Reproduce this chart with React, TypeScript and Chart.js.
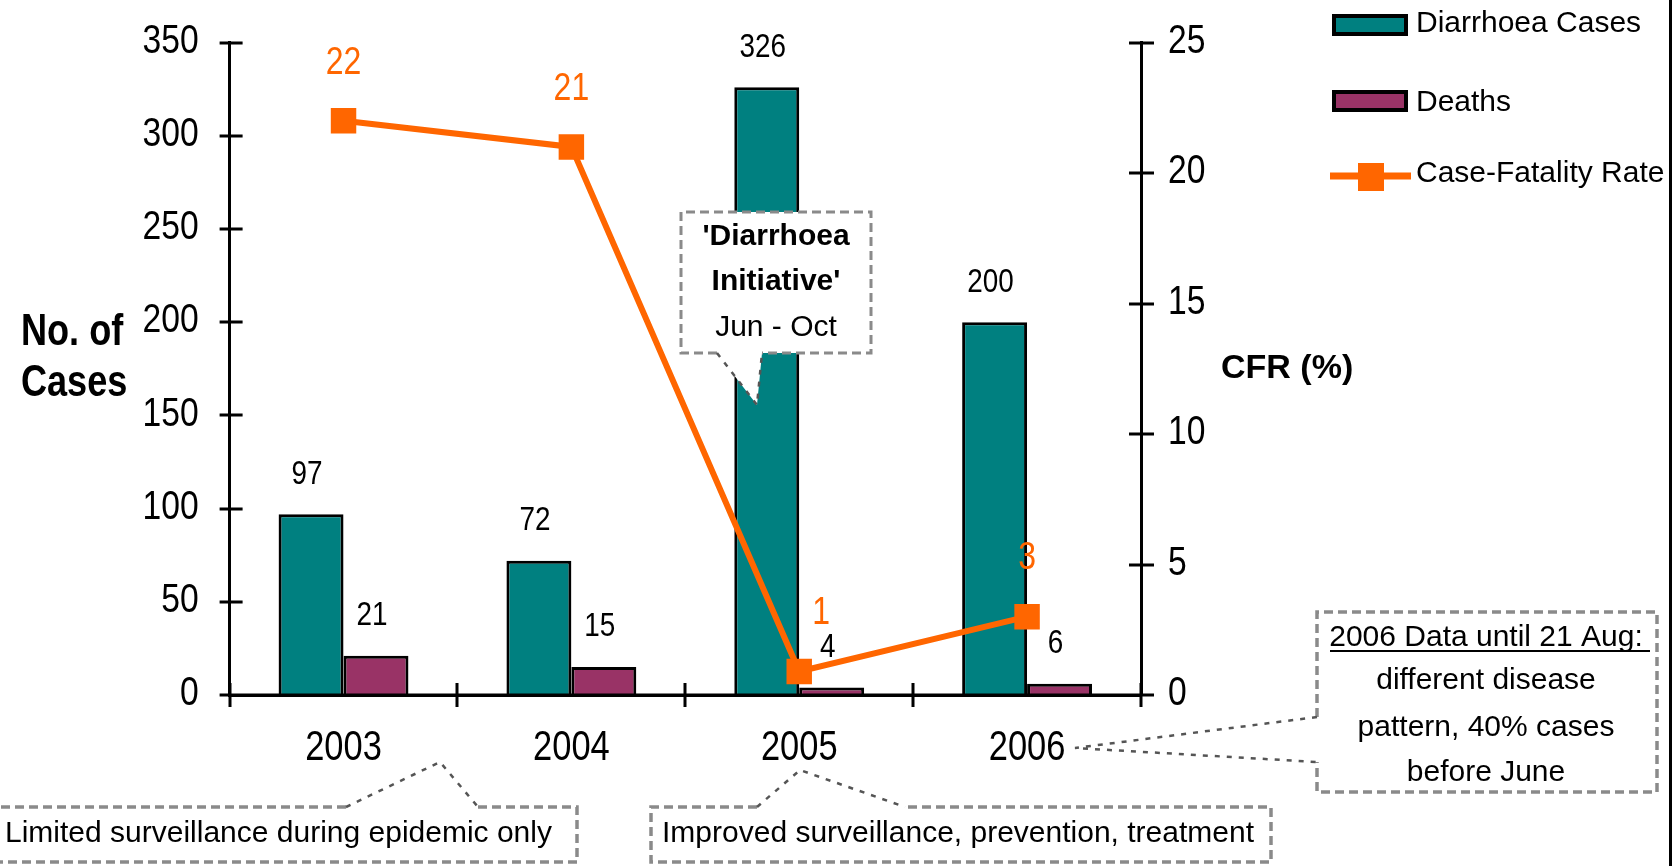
import React, { useEffect, useRef } from 'react';
import { Chart, registerables } from 'chart.js';

Chart.register(...registerables);

// ---- data ----
const years = ['2003', '2004', '2005', '2006'];
const diarrhoeaCases = [97, 72, 326, 200];
const deaths = [21, 15, 4, 6];
const cfrValues = [22, 21, 0.9, 3];
const cfrLabels = ['22', '21', '1', '3'];
const casesAxis = { min: 0, max: 350, step: 50 };
const cfrAxis = { min: 0, max: 25, step: 5 };

// ---- style ----
const TEAL = '#008080';
const PURPLE = '#993366';
const ORANGE = '#FF6600';
const SANS = "'Liberation Sans', Arial, sans-serif";
const NARROW_X = 0.82; // horizontal squeeze that turns Arial metrics into Arial Narrow metrics
const cfrLabelShiftX = [0, 0, 22, 0];

const W = 1678;
const H = 866;
const PLOT_LEFT = 229.6;
const PLOT_RIGHT = 1141;
const PLOT_TOP_PAD = 42.5;
const PLOT_BOTTOM = 695;

function strokePath(ctx: CanvasRenderingContext2D, pts: number[][], color: string, width: number, dash: number[]) {
  ctx.save();
  ctx.strokeStyle = color;
  ctx.lineWidth = width;
  ctx.setLineDash(dash);
  ctx.beginPath();
  ctx.moveTo(pts[0][0], pts[0][1]);
  for (let i = 1; i < pts.length; i++) ctx.lineTo(pts[i][0], pts[i][1]);
  ctx.stroke();
  ctx.restore();
}

function text(
  ctx: CanvasRenderingContext2D,
  s: string,
  x: number,
  y: number,
  font: string,
  color = '#000',
  align: CanvasTextAlign = 'center',
  sx = 1
) {
  ctx.save();
  ctx.font = font;
  ctx.fillStyle = color;
  ctx.textAlign = align;
  ctx.textBaseline = 'middle';
  ctx.translate(x, y);
  ctx.scale(sx, 1);
  ctx.fillText(s, 0, 0);
  ctx.restore();
}

const BOX_COLOR = '#8a8a8a';
const BOX_DASH = [9, 5];
const PTR_COLOR = '#555';
const PTR_DASH = [5, 7];

const decorPlugin = {
  id: 'decor',
  afterDatasetsDraw(chart: any) {
    const ctx: CanvasRenderingContext2D = chart.ctx;
    const xs = chart.scales.x;
    const ys = chart.scales.y;
    const y1 = chart.scales.y1;
    const area = chart.chartArea;

    // baseline over the bar feet, cross tick marks
    ctx.save();
    ctx.strokeStyle = '#000';
    ctx.lineWidth = 3;
    ctx.beginPath();
    ctx.moveTo(area.left, Math.round(area.bottom));
    ctx.lineTo(area.right, Math.round(area.bottom));
    ys.ticks.forEach((t: any) => {
      const py = Math.round(ys.getPixelForValue(t.value));
      ctx.moveTo(area.left - 10, py);
      ctx.lineTo(area.left + 13, py);
    });
    y1.ticks.forEach((t: any) => {
      const py = Math.round(y1.getPixelForValue(t.value));
      ctx.moveTo(area.right - 12, py);
      ctx.lineTo(area.right + 13, py);
    });
    const n = years.length;
    const half = (xs.getPixelForValue(1) - xs.getPixelForValue(0)) / 2;
    for (let i = 0; i <= n; i++) {
      const px = i < n ? xs.getPixelForValue(i) - half : xs.getPixelForValue(n - 1) + half;
      ctx.moveTo(Math.round(px), area.bottom - 12);
      ctx.lineTo(Math.round(px), area.bottom + 12);
    }
    ctx.stroke();
    ctx.restore();

    // tick labels from the library's scales
    const tickFont = `41px ${SANS}`;
    ys.ticks.forEach((t: any) => {
      text(ctx, String(t.value), area.left - 31, ys.getPixelForValue(t.value) - 1, tickFont, '#000', 'right', NARROW_X);
    });
    y1.ticks.forEach((t: any) => {
      text(ctx, String(t.value), area.right + 27, y1.getPixelForValue(t.value) - 1, tickFont, '#000', 'left', NARROW_X);
    });
    xs.ticks.forEach((t: any, i: number) => {
      text(ctx, String(xs.getLabelForValue(t.value)), xs.getPixelForValue(i), area.bottom + 53, `42px ${SANS}`, '#000', 'center', NARROW_X);
    });

    // bar value labels
    const barFont = `34px ${SANS}`;
    chart.data.datasets.forEach((ds: any, di: number) => {
      if (ds.type !== 'bar') return;
      const meta = chart.getDatasetMeta(di);
      meta.data.forEach((el: any, i: number) => {
        text(ctx, String(ds.data[i]), el.x - 4, el.y - 40, barFont, '#000', 'center', NARROW_X);
      });
    });

    // CFR labels
    const lineIdx = chart.data.datasets.findIndex((d: any) => d.type === 'line');
    const lm = chart.getDatasetMeta(lineIdx);
    lm.data.forEach((el: any, i: number) => {
      text(ctx, cfrLabels[i], el.x + cfrLabelShiftX[i], el.y - 58, `39px ${SANS}`, ORANGE, 'center', NARROW_X);
    });
  },
  afterDraw(chart: any) {
    const ctx: CanvasRenderingContext2D = chart.ctx;

    // axis titles
    text(ctx, 'No. of', 21, 333, `bold 44px ${SANS}`, '#000', 'left', NARROW_X);
    text(ctx, 'Cases', 21, 384, `bold 44px ${SANS}`, '#000', 'left', NARROW_X);
    text(ctx, 'CFR (%)', 1221, 369, `bold 34px ${SANS}`, '#000', 'left');

    // legend
    ctx.save();
    ctx.lineWidth = 4;
    ctx.strokeStyle = '#000';
    ctx.fillStyle = TEAL;
    ctx.fillRect(1334, 16, 72, 18);
    ctx.strokeRect(1334, 16, 72, 18);
    ctx.fillStyle = PURPLE;
    ctx.fillRect(1334, 92, 72, 18);
    ctx.strokeRect(1334, 92, 72, 18);
    ctx.strokeStyle = ORANGE;
    ctx.lineWidth = 7;
    ctx.beginPath();
    ctx.moveTo(1330, 176);
    ctx.lineTo(1411, 176);
    ctx.stroke();
    ctx.fillStyle = ORANGE;
    ctx.fillRect(1358, 163, 26, 28);
    ctx.restore();
    const legFont = `30px ${SANS}`;
    text(ctx, 'Diarrhoea Cases', 1416, 24, legFont, '#000', 'left');
    text(ctx, 'Deaths', 1416, 103, legFont, '#000', 'left');
    text(ctx, 'Case-Fatality Rate', 1416, 174, legFont, '#000', 'left');

    // right border line
    ctx.save();
    ctx.fillStyle = '#000';
    ctx.fillRect(1669, 0, 3, H);
    ctx.restore();

    // 'Diarrhoea Initiative' callout
    const callout = [[681, 212], [871, 212], [871, 353], [762, 353], [757, 405], [717, 353], [681, 353], [681, 212]];
    ctx.save();
    ctx.fillStyle = '#fff';
    ctx.beginPath();
    ctx.moveTo(callout[0][0], callout[0][1]);
    callout.slice(1).forEach((p) => ctx.lineTo(p[0], p[1]));
    ctx.closePath();
    ctx.fill();
    ctx.restore();
    strokePath(ctx, [[717, 353], [681, 353], [681, 212], [871, 212], [871, 353], [762, 353]], BOX_COLOR, 3, BOX_DASH);
    strokePath(ctx, [[717, 353], [757, 405], [762, 353]], PTR_COLOR, 2.5, PTR_DASH);
    text(ctx, "'Diarrhoea", 776, 237, `bold 30px ${SANS}`);
    text(ctx, "Initiative'", 776, 282, `bold 30px ${SANS}`);
    text(ctx, 'Jun - Oct', 776, 328, `30px ${SANS}`);

    // bottom-left box
    strokePath(ctx, [[346, 807], [-5, 807]], BOX_COLOR, 3.5, BOX_DASH);
    strokePath(ctx, [[478, 807], [577, 807], [577, 862], [-5, 862]], BOX_COLOR, 3.5, BOX_DASH);
    strokePath(ctx, [[346, 807], [440, 762], [478, 807]], PTR_COLOR, 2.5, PTR_DASH);
    text(ctx, 'Limited surveillance during epidemic only', 5, 834, `30px ${SANS}`, '#000', 'left');

    // bottom-middle box
    strokePath(ctx, [[757, 807], [651, 807], [651, 862], [1271, 862], [1271, 807], [905, 807]], BOX_COLOR, 3.5, BOX_DASH);
    strokePath(ctx, [[757, 807], [800, 770], [905, 807]], PTR_COLOR, 2.5, PTR_DASH);
    text(ctx, 'Improved surveillance, prevention, treatment', 958, 834, `30px ${SANS}`);

    // right box
    strokePath(ctx, [[1317, 717], [1317, 612], [1657, 612], [1657, 792], [1317, 792], [1317, 762]], BOX_COLOR, 3.5, BOX_DASH);
    strokePath(ctx, [[1317, 717], [1075, 748], [1317, 762]], PTR_COLOR, 2.5, PTR_DASH);
    text(ctx, '2006 Data until 21 Aug:', 1486, 638, `30px ${SANS}`);
    ctx.save();
    ctx.fillStyle = '#000';
    ctx.fillRect(1330, 650, 320, 2);
    ctx.restore();
    text(ctx, 'different disease', 1486, 681, `30px ${SANS}`);
    text(ctx, 'pattern, 40% cases', 1486, 728, `30px ${SANS}`);
    text(ctx, 'before June', 1486, 773, `30px ${SANS}`);
  },
};

export default function App() {
  const ref = useRef<HTMLCanvasElement | null>(null);

  useEffect(() => {
    document.body.style.margin = '0';
    document.body.style.background = '#fff';
    const canvas = ref.current!;
    const chart = new Chart(canvas, {
      type: 'bar',
      data: {
        labels: years,
        datasets: [
          {
            type: 'bar',
            label: 'Diarrhoea Cases',
            data: diarrhoeaCases,
            yAxisID: 'y',
            backgroundColor: TEAL,
            borderColor: '#000',
            borderWidth: 3,
            borderSkipped: 'start',
            order: 1,
          },
          {
            type: 'bar',
            label: 'Deaths',
            data: deaths,
            yAxisID: 'y',
            backgroundColor: PURPLE,
            borderColor: '#000',
            borderWidth: 3,
            borderSkipped: 'start',
            order: 2,
          },
          {
            type: 'line',
            label: 'Case-Fatality Rate',
            data: cfrValues,
            yAxisID: 'y1',
            borderColor: ORANGE,
            backgroundColor: ORANGE,
            borderWidth: 6,
            tension: 0,
            pointStyle: 'rect',
            pointRadius: 18,
            pointBorderWidth: 0,
            pointBackgroundColor: ORANGE,
            order: 0,
          },
        ] as any,
      },
      options: {
        animation: false,
        responsive: false,
        devicePixelRatio: 1,
        layout: { padding: { top: PLOT_TOP_PAD, left: 0, right: 0, bottom: 0 } },
        plugins: { legend: { display: false }, tooltip: { enabled: false } },
        datasets: { bar: { categoryPercentage: 0.57, barPercentage: 1.0 } },
        scales: {
          x: {
            type: 'category',
            offset: true,
            grid: { display: false, drawTicks: false },
            border: { display: true, color: '#000', width: 3 },
            ticks: { display: false },
            afterFit: (s: any) => { s.height = H - PLOT_BOTTOM; },
          },
          y: {
            position: 'left',
            min: casesAxis.min,
            max: casesAxis.max,
            grid: { display: false, drawTicks: false },
            border: { display: true, color: '#000', width: 3 },
            ticks: { stepSize: casesAxis.step, display: false },
            afterFit: (s: any) => { s.width = PLOT_LEFT; },
          },
          y1: {
            position: 'right',
            min: cfrAxis.min,
            max: cfrAxis.max,
            grid: { display: false, drawTicks: false },
            border: { display: true, color: '#000', width: 3 },
            ticks: { stepSize: cfrAxis.step, display: false },
            afterFit: (s: any) => { s.width = W - PLOT_RIGHT; },
          },
        },
      } as any,
      plugins: [decorPlugin],
    });
    return () => chart.destroy();
  }, []);

  return (
    <div style={{ width: W, height: H, background: '#fff' }}>
      <canvas ref={ref} width={W} height={H} style={{ display: 'block' }} />
    </div>
  );
}
